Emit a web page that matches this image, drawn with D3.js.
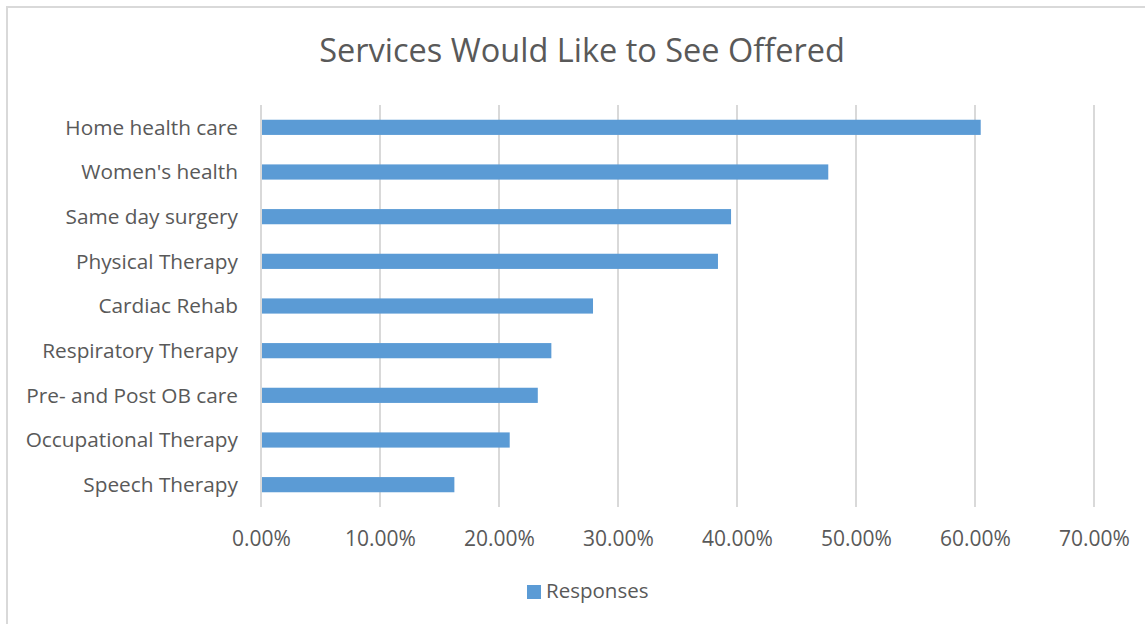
<!DOCTYPE html>
<html>
<head>
<meta charset="utf-8">
<script src="https://cdn.jsdelivr.net/npm/d3@7"></script>
<style>
html,body{margin:0;padding:0;background:#fff;overflow:hidden;}
svg{display:block;font-family:"Open Sans",sans-serif;}
</style>
</head>
<body>
<svg id="chart" width="1145" height="624"></svg>
<script>
const categories = ["Home health care","Women's health","Same day surgery","Physical Therapy","Cardiac Rehab","Respiratory Therapy","Pre- and Post OB care","Occupational Therapy","Speech Therapy"];
const values = [0.6048, 0.4767, 0.395, 0.384, 0.279, 0.244, 0.2326, 0.209, 0.1625];
const xTicks = [0, 0.1, 0.2, 0.3, 0.4, 0.5, 0.6, 0.7];
const seriesName = "Responses";
const title = "Services Would Like to See Offered";

const svg = d3.select("#chart");
const W = 1145, H = 624;
const m = {left: 261, right: W - 1094, top: 105, bottom: H - 507};
const textColor = "#595959";
const barColor = "#5b9bd5";

svg.append("rect").attr("x", 7).attr("y", 7).attr("width", W + 10).attr("height", H + 10)
  .attr("fill", "#fff").attr("stroke", "#d9d9d9").attr("stroke-width", 2);

const x = d3.scaleLinear().domain([0, 0.7]).range([m.left, W - m.right]);
const y = d3.scaleBand().domain(categories).range([m.top, H - m.bottom]).paddingInner(0.66).paddingOuter(0.33);

// gridlines
svg.append("g").selectAll("line").data(xTicks).join("line")
  .attr("x1", d => x(d)).attr("x2", d => x(d))
  .attr("y1", m.top).attr("y2", H - m.bottom)
  .attr("stroke", "#d9d9d9").attr("stroke-width", 2);

// bars
svg.append("g").selectAll("rect").data(values).join("rect")
  .attr("x", x(0) + 1)
  .attr("y", (d, i) => y(categories[i]))
  .attr("width", d => x(d) - x(0) - 1)
  .attr("height", y.bandwidth())
  .attr("fill", barColor);

// x axis labels
const xAxis = d3.axisBottom(x).tickValues(xTicks).tickSize(0).tickPadding(0)
  .tickFormat(d => (d * 100).toFixed(2) + "%");
const gx = svg.append("g").attr("transform", `translate(0,${H - m.bottom})`).call(xAxis);
gx.select(".domain").remove();
gx.selectAll("text").attr("fill", textColor).attr("font-size", "21px")
  .attr("font-family", "Open Sans").attr("dy", null).attr("y", 39);

// y axis labels
const yAxis = d3.axisLeft(y).tickSize(0).tickPadding(0);
const gy = svg.append("g").attr("transform", `translate(238,0)`).call(yAxis);
gy.select(".domain").remove();
gy.selectAll("text").attr("fill", textColor).attr("font-size", "20.8px")
  .attr("font-family", "Open Sans").attr("dy", "0.35em");

// title
svg.append("text").attr("x", 582).attr("y", 62).attr("text-anchor", "middle")
  .attr("fill", textColor).attr("font-size", "32.5px").text(title);

// legend
const lg = svg.append("g");
lg.append("rect").attr("x", 527).attr("y", 585).attr("width", 14).attr("height", 14).attr("fill", barColor);
lg.append("text").attr("x", 546).attr("y", 598).attr("fill", textColor).attr("font-size", "20.5px").text(seriesName);
</script>
</body>
</html>
